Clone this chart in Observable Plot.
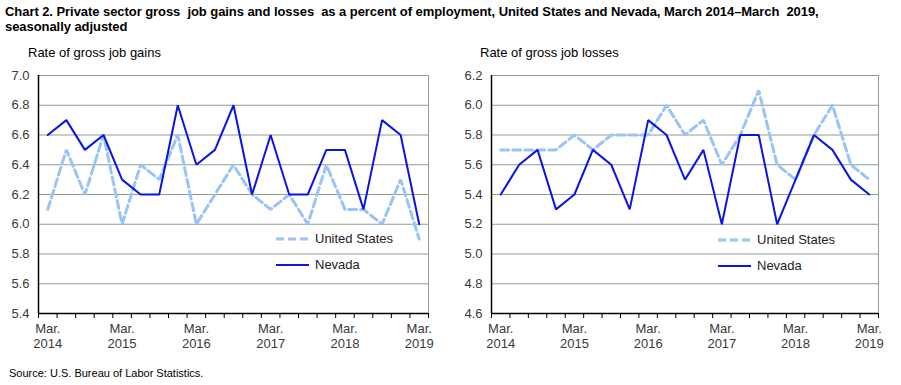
<!DOCTYPE html>
<html>
<head>
<meta charset="utf-8">
<script src="https://cdn.jsdelivr.net/npm/d3@7"></script>
<script src="https://cdn.jsdelivr.net/npm/@observablehq/plot@0.6"></script>
<style>
  html, body { margin: 0; padding: 0; background: #fff; }
  body { width: 901px; height: 385px; position: relative; overflow: hidden; font-family: "Liberation Sans", Arial, sans-serif; }
  #title { position: absolute; left: 5px; top: 4px; font-weight: bold; font-size: 13px; line-height: 15px; letter-spacing: -0.06px; color: #000; white-space: nowrap; font-family: "Liberation Sans Narrow", "Liberation Sans", Arial, sans-serif; }
  .sub { position: absolute; top: 45px; font-size: 13px; color: #000; white-space: nowrap; }
  .chart { position: absolute; top: 65px; }
  .legend { position: absolute; font-size: 13px; color: #222; }
  .legend div { position: absolute; white-space: nowrap; height: 16px; line-height: 16px; }
  .legend svg { position: absolute; left: 0; top: 0; }
  .legend span { position: absolute; left: 39px; top: 0; }
  #source { position: absolute; left: 9px; top: 367px; font-size: 11px; color: #000; white-space: nowrap; }
</style>
</head>
<body>
<div id="title">Chart 2. Private sector gross&nbsp; job gains and losses&nbsp; as a percent of employment, United States and Nevada, March 2014–March&nbsp; 2019,<br>seasonally adjusted</div>
<div class="sub" style="left:28px">Rate of gross job gains</div>
<div class="sub" style="left:480px">Rate of gross job losses</div>
<div id="left" class="chart" style="left:0px"></div>
<div id="right" class="chart" style="left:450px"></div>
<div class="legend" id="legL" style="left:276px; top:231px"></div>
<div class="legend" id="legR" style="left:718px; top:232px"></div>
<div id="source">Source: U.S. Bureau of Labor Statistics.</div>
<script>
// Quarters: March 2014 through March 2019
const quarters = ["Mar 2014","Jun 2014","Sep 2014","Dec 2014","Mar 2015","Jun 2015","Sep 2015","Dec 2015","Mar 2016","Jun 2016","Sep 2016","Dec 2016","Mar 2017","Jun 2017","Sep 2017","Dec 2017","Mar 2018","Jun 2018","Sep 2018","Dec 2018","Mar 2019"];
const tickLabels = ["Mar.\n2014","Mar.\n2015","Mar.\n2016","Mar.\n2017","Mar.\n2018","Mar.\n2019"];
const tickIndex = [0, 4, 8, 12, 16, 20];

// Gross job gains (%)
const gainsUS = [6.1, 6.5, 6.2, 6.6, 6.0, 6.4, 6.3, 6.6, 6.0, 6.2, 6.4, 6.2, 6.1, 6.2, 6.0, 6.4, 6.1, 6.1, 6.0, 6.3, 5.9];
const gainsNV = [6.6, 6.7, 6.5, 6.6, 6.3, 6.2, 6.2, 6.8, 6.4, 6.5, 6.8, 6.2, 6.6, 6.2, 6.2, 6.5, 6.5, 6.1, 6.7, 6.6, 6.0];
// Gross job losses (%)
const lossesUS = [5.7, 5.7, 5.7, 5.7, 5.8, 5.7, 5.8, 5.8, 5.8, 6.0, 5.8, 5.9, 5.6, 5.8, 6.1, 5.6, 5.5, 5.8, 6.0, 5.6, 5.5];
const lossesNV = [5.4, 5.6, 5.7, 5.3, 5.4, 5.7, 5.6, 5.3, 5.9, 5.8, 5.5, 5.7, 5.2, 5.8, 5.8, 5.2, 5.5, 5.8, 5.7, 5.5, 5.4];

const gainsTicks = [5.4, 5.6, 5.8, 6.0, 6.2, 6.4, 6.6, 6.8, 7.0];
const lossesTicks = [4.6, 4.8, 5.0, 5.2, 5.4, 5.6, 5.8, 6.0, 6.2];

const US_COLOR = "#99c4f5";
const NV_COLOR = "#0a14e6";
const GRID = "#8f9e8f";

function chart(us, nv, yTicks, w, ml, mr) {
  const n = quarters.length;
  const edges = d3.range(n + 1).map(i => i - 0.5);
  const ymin = yTicks[0], ymax = yTicks[yTicks.length - 1];
  const dUS = us.map((v, i) => ({i, v, q: quarters[i]}));
  const dNV = nv.map((v, i) => ({i, v, q: quarters[i]}));
  return Plot.plot({
    width: w,
    height: 288,
    marginTop: 10,
    marginBottom: 40,
    marginLeft: ml,
    marginRight: mr,
    style: {fontFamily: "'Liberation Sans', Arial, sans-serif", fontSize: "13px", color: "#3a3a3a", background: "white"},
    x: {domain: [-0.5, n - 0.5]},
    y: {domain: [ymin, ymax]},
    marks: [
      Plot.ruleY(yTicks.slice(1), {stroke: GRID, strokeWidth: 1, strokeOpacity: 1}),
      Plot.ruleX([n - 0.5], {stroke: GRID, strokeWidth: 1}),
      Plot.axisY(yTicks, {tickSize: 0, tickPadding: 9, tickFormat: d => d.toFixed(1), label: null, fill: "#3a3a3a"}),
      Plot.axisX(edges, {tickSize: 5, tickFormat: () => "", label: null, stroke: "#000"}),
      Plot.axisX(tickIndex, {tickSize: 0, tickPadding: 9, tickFormat: (d) => tickLabels[tickIndex.indexOf(d)], label: null, fill: "#3a3a3a", lineHeight: 1.15}),
      Plot.ruleX([-0.5], {stroke: "#000", strokeWidth: 1.5}),
      Plot.ruleY([ymin], {stroke: "#000", strokeWidth: 1.5}),
      Plot.line(dUS, {x: "i", y: "v", stroke: US_COLOR, strokeWidth: 3, strokeDasharray: "8,4", strokeLinejoin: "miter"}),
      Plot.line(dNV, {x: "i", y: "v", stroke: NV_COLOR, strokeWidth: 2, strokeLinejoin: "miter"})
    ]
  });
}

document.getElementById("left").appendChild(chart(gainsUS, gainsNV, gainsTicks, 450, 38, 22));
document.getElementById("right").appendChild(chart(lossesUS, lossesNV, lossesTicks, 451, 41, 23));

function legend(el) {
  const items = [["United States", US_COLOR, 3, "8,4"], ["Nevada", NV_COLOR, 2, null]];
  items.forEach(([name, color, sw, dash], k) => {
    const row = document.createElement("div");
    row.style.top = (k * 26) + "px";
    row.style.left = "0px";
    row.innerHTML = `<svg width="34" height="16"><line x1="0" x2="33" y1="8" y2="8" stroke="${color}" stroke-width="${sw}" ${dash ? `stroke-dasharray="${dash}"` : ""}/></svg><span>${name}</span>`;
    el.appendChild(row);
  });
}
legend(document.getElementById("legL"));
legend(document.getElementById("legR"));
</script>
</body>
</html>
